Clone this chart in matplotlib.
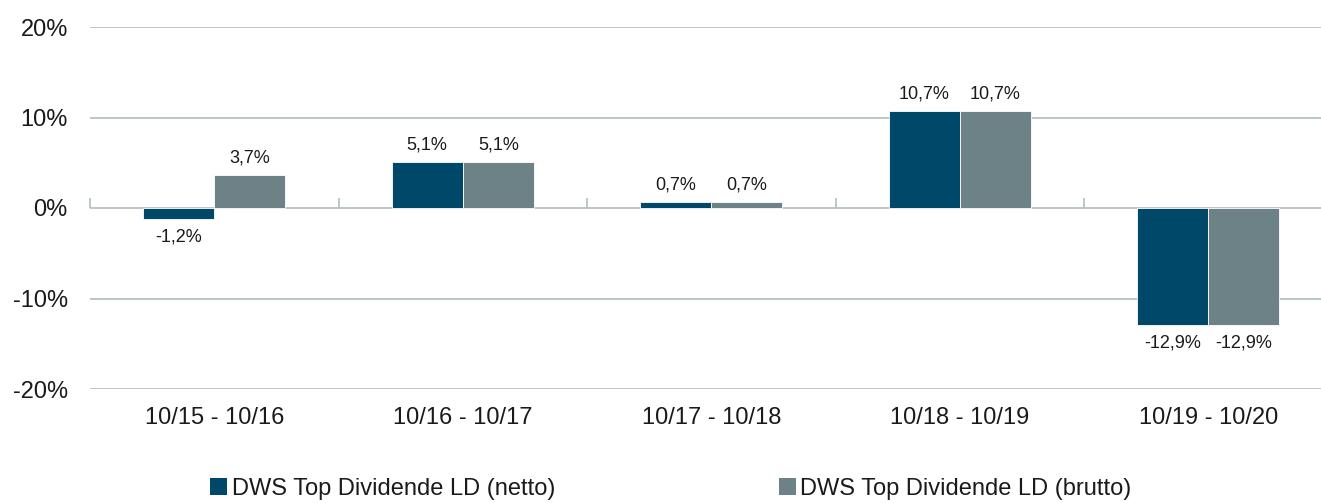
import matplotlib
matplotlib.use('Agg')
import matplotlib.pyplot as plt
from matplotlib.patches import Patch
import numpy as np

# Data
periods = ['10/15 - 10/16', '10/16 - 10/17', '10/17 - 10/18', '10/18 - 10/19', '10/19 - 10/20']
netto = [-1.2, 5.1, 0.7, 10.7, -12.9]
brutto = [3.7, 5.1, 0.7, 10.7, -12.9]
series_names = ['DWS Top Dividende LD (netto)', 'DWS Top Dividende LD (brutto)']

col_netto = '#00486A'
col_brutto = '#6D8286'
grid_col = '#B5C1C5'
text_col = '#1A1A1A'

plt.rcParams['font.family'] = ['Liberation Sans', 'DejaVu Sans']

fig = plt.figure(figsize=(13.21, 5.03), dpi=100)
# axes runs a bit past the right edge, like the original
ax = fig.add_axes([90 / 1321, 114 / 503, 1242.5 / 1321, 362 / 503])

x = np.arange(len(periods))
w = 0.286

ax.bar(x - w / 2, netto, w, color=col_netto, edgecolor='white', linewidth=0.6, zorder=3)
ax.bar(x + w / 2, brutto, w, color=col_brutto, edgecolor='white', linewidth=0.6, zorder=3)

def fmt(v):
    return ('%.1f%%' % v).replace('.', ',')

for xs, vals in [(x - w / 2, netto), (x + w / 2, brutto)]:
    for xi, v in zip(xs, vals):
        if v >= 0:
            ax.annotate(fmt(v), (xi, v), xytext=(0, 6), textcoords='offset points',
                        ha='center', va='bottom', fontsize=13, color=text_col)
        else:
            ax.annotate(fmt(v), (xi, v), xytext=(0, -7), textcoords='offset points',
                        ha='center', va='top', fontsize=13, color=text_col)

ax.set_xlim(-0.5, len(periods) - 0.5)
ax.set_ylim(-20, 20)
ax.set_yticks([-20, -10, 0, 10, 20])
ax.set_yticklabels(['%d%%' % t for t in [-20, -10, 0, 10, 20]])
ax.tick_params(axis='y', length=0, pad=16, labelsize=17, labelcolor=text_col)

ax.set_xticks(x)
ax.set_xticklabels(periods)
ax.tick_params(axis='x', length=0, pad=13, labelsize=17, labelcolor=text_col)

ax.grid(axis='y', color=grid_col, linewidth=1.3, zorder=0)
for s in ax.spines.values():
    s.set_visible(False)

# zero axis line with category separators
sec = ax.secondary_xaxis(0.5)
sec.set_xticks(np.arange(len(periods) + 1) - 0.5)
sec.set_xticklabels([])
sec.tick_params(axis='x', direction='out', length=7, width=1.3, color=grid_col)
sec.spines['bottom'].set_color(grid_col)
sec.spines['bottom'].set_linewidth(1.3)
sec.spines['top'].set_visible(False)

handles = [Patch(facecolor=col_netto), Patch(facecolor=col_brutto)]
fig.legend(handles, series_names, loc='center', bbox_to_anchor=(671 / 1321, 14 / 503),
           ncol=2, frameon=False, fontsize=17, handlelength=0.7, handleheight=0.7,
           handletextpad=0.2, columnspacing=9.5, labelcolor=text_col)

fig.savefig('out.png', dpi=100)
